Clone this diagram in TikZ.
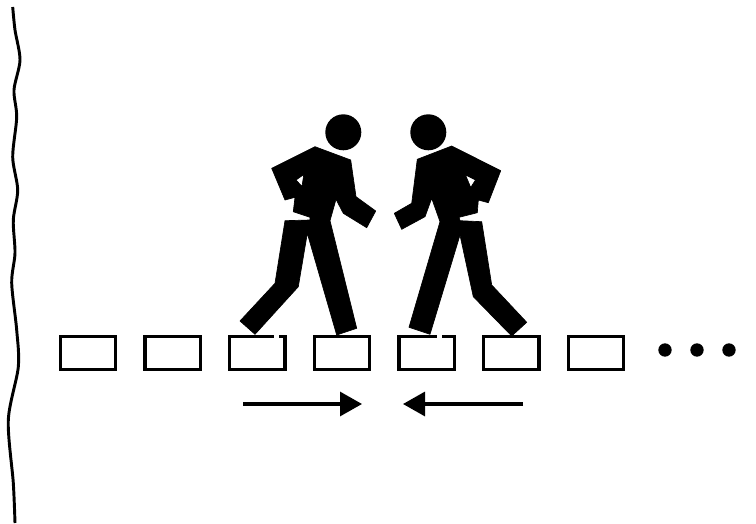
\documentclass[tikz,border=0pt]{standalone}
\usepackage{tikz}
\usetikzlibrary{positioning, arrows.meta, calc}

\begin{document}
\begin{tikzpicture}[x=0.75pt, y=-0.75pt, node distance=19.5pt, >={Triangle[length=16.5pt, width=18pt]},
    cellbox/.style={draw, rectangle, line width=2.5pt, minimum width=41.5pt, minimum height=24.5pt, inner sep=0pt},
    headdot/.style={circle, fill=black, minimum size=27pt, inner sep=0pt},
    moredot/.style={circle, fill=black, minimum size=10pt, inner sep=0pt},
    figure/.style={fill=black, draw=black, line width=0.5pt, line join=round, even odd rule},
    movearrow/.style={->, line width=2.4pt}]
    \useasboundingbox (0,0) rectangle (756,524);

    % Torn left edge
    \draw [line width=2.2pt] plot [smooth] coordinates {(12.7,7) (15,30) (20,60) (14,90) (16.7,117) (12.7,157) (17.7,190) (13.3,220) (15,253) (11.7,283) (16.7,330) (18.3,367) (8.3,420) (13.3,483) (15,523)};

    % Row of cells
    \node [cellbox] (cell1) at (88,353) {};
    \foreach \i [remember=\i as \j (initially 1)] in {2,...,7}
        \node [cellbox, right=of cell\j] (cell\i) {};
    \node [moredot] (dot1) at (665,350) {};
    \node [moredot] (dot2) at (697,350) {};
    \node [moredot] (dot3) at (729,350) {};

    % Breaks in the top edges
    \fill [white] ($(cell3.north)+(17,-2)$) rectangle ++(4.5,6.5);
    \fill [white] ($(cell5.north)+(10,-2)$) rectangle ++(5,6.5);

    % Left walker
    \node [headdot] (headleft) at (343.3,132.3) {};
    \filldraw [figure] (315,146.7) -- (350.7,160) -- (356,196.7) -- (375.7,211) -- (366.7,227.7) -- (343.3,213.3) -- (336,199.3) -- (330,220.7) -- (356.7,328.3) -- (336.7,335) -- (307.3,233.3) -- (298.3,286.7) -- (255,334.3) -- (240,321) -- (275,283.3) -- (285,220.7) -- (310,220) -- (310,217.3) -- (293.3,211.7) -- (295,197.3) -- (285,200) -- (271.7,168.3) -- cycle
        (303.8,174.5) -- (296,180) -- (302,186.5) -- cycle;

    % Right walker
    \node [headdot] (headright) at (428.3,132.3) {};
    \filldraw [figure] (451.7,146) -- (500.7,170.7) -- (488.3,202.7) -- (478.3,200) -- (477.3,212.7) -- (459,217.3) -- (460,220.7) -- (481.7,221.7) -- (491.7,285) -- (526.7,322.3) -- (511.7,336) -- (473.3,296.7) -- (460,235) -- (430,334.3) -- (409,327.3) -- (440,221.7) -- (431.7,198.3) -- (425,216.7) -- (401.7,229.3) -- (394.3,213.3) -- (411.7,203.3) -- (417.3,159.3) -- cycle
        (465.5,175) -- (475.5,180) -- (470.7,187.5) -- cycle;

    % Arrows towards each other
    \coordinate (startleft) at (243,404);
    \coordinate (endleft) at (362,404);
    \coordinate (startright) at (523,404);
    \coordinate (endright) at (403,404);
    \draw [movearrow] (startleft) -- (endleft);
    \draw [movearrow] (startright) -- (endright);
\end{tikzpicture}
\end{document}
